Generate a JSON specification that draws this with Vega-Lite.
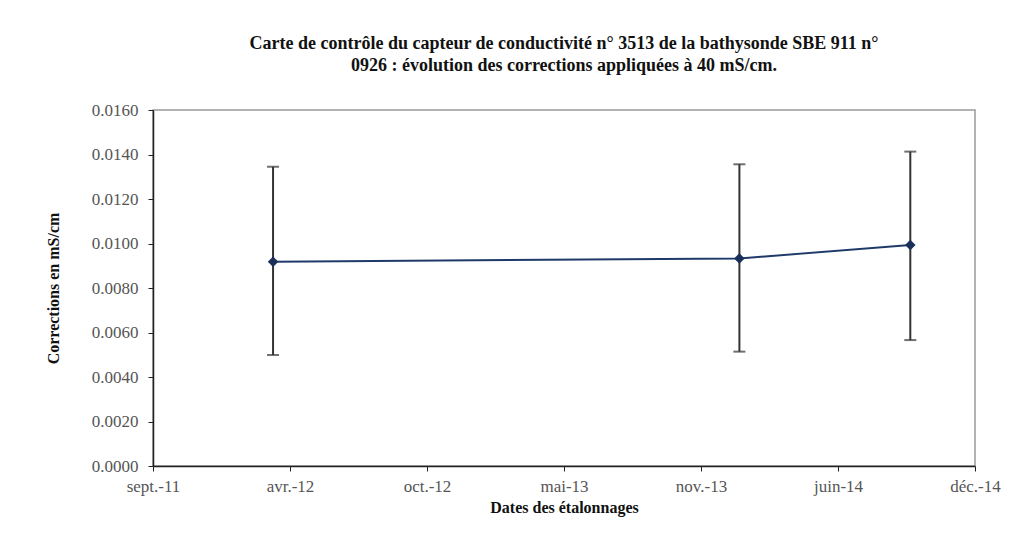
{
  "$schema": "https://vega.github.io/schema/vega-lite/v6.json",
  "width": 822,
  "height": 356,
  "autosize": {"type": "none"},
  "padding": {"left": 153, "top": 110, "right": 53, "bottom": 71},
  "background": "white",
  "title": {
    "text": ["Carte de contrôle du capteur de conductivité n° 3513 de la bathysonde SBE 911 n°", "0926 : évolution des corrections appliquées à 40 mS/cm."],
    "font": "Liberation Serif",
    "fontSize": 18,
    "fontWeight": "bold",
    "color": "#111",
    "anchor": "middle",
    "offset": 26,
    "lineHeight": 22
  },
  "config": {
    "view": {"stroke": "#9a9a9a", "strokeWidth": 1.5},
    "axis": {
      "labelFont": "Liberation Serif",
      "titleFont": "Liberation Serif",
      "labelFontSize": 17,
      "titleFontSize": 16,
      "labelColor": "#555",
      "titleColor": "#111",
      "titleFontWeight": "bold",
      "domainColor": "#222",
      "domainWidth": 1.5,
      "tickColor": "#222",
      "tickSize": 5,
      "grid": false
    }
  },
  "data": {
    "values": [
      {"date": "2012-03-11T12:00:00", "corr": 0.00918, "lo": 0.00499, "hi": 0.01345},
      {"date": "2014-01-14T12:00:00", "corr": 0.00933, "lo": 0.00514, "hi": 0.01356},
      {"date": "2014-09-18T12:00:00", "corr": 0.00993, "lo": 0.00566, "hi": 0.01413}
    ]
  },
  "encoding": {
    "x": {
      "field": "date",
      "type": "temporal",
      "scale": {"domain": [{"year": 2011, "month": 9, "date": 20}, {"year": 2014, "month": 12, "date": 21}], "nice": false},
      "axis": {
        "title": "Dates des étalonnages",
        "values": [
          {"year": 2011, "month": 9, "date": 20},
          {"year": 2012, "month": 4, "date": 5},
          {"year": 2012, "month": 10, "date": 20},
          {"year": 2013, "month": 5, "date": 6},
          {"year": 2013, "month": 11, "date": 20},
          {"year": 2014, "month": 6, "date": 6},
          {"year": 2014, "month": 12, "date": 21}
        ],
        "labelExpr": "['janv.','févr.','mars','avr.','mai','juin','juil.','août','sept.','oct.','nov.','déc.'][month(datum.value)] + '-' + timeFormat(datum.value, '%y')",
        "labelPadding": 7,
        "titlePadding": 5,
        "labelFlush": false,
        "labelOverlap": false
      }
    }
  },
  "layer": [
    {
      "mark": {"type": "rule", "color": "#333", "strokeWidth": 2},
      "encoding": {
        "y": {"field": "lo", "type": "quantitative"},
        "y2": {"field": "hi"}
      }
    },
    {
      "mark": {"type": "tick", "orient": "horizontal", "color": "#333", "size": 12, "thickness": 2},
      "encoding": {"y": {"field": "lo", "type": "quantitative"}}
    },
    {
      "mark": {"type": "tick", "orient": "horizontal", "color": "#333", "size": 12, "thickness": 2},
      "encoding": {"y": {"field": "hi", "type": "quantitative"}}
    },
    {
      "mark": {"type": "line", "color": "#1f3a68", "strokeWidth": 2, "point": {"shape": "diamond", "size": 110, "color": "#1a2f5a", "filled": true}},
      "encoding": {
        "y": {
          "field": "corr",
          "type": "quantitative",
          "scale": {"domain": [0, 0.016], "nice": false},
          "axis": {
            "title": "Corrections en mS/cm",
            "values": [0, 0.002, 0.004, 0.006, 0.008, 0.01, 0.012, 0.014, 0.016],
            "format": ".4f",
            "labelPadding": 10,
            "titlePadding": 30
          }
        }
      }
    }
  ]
}
